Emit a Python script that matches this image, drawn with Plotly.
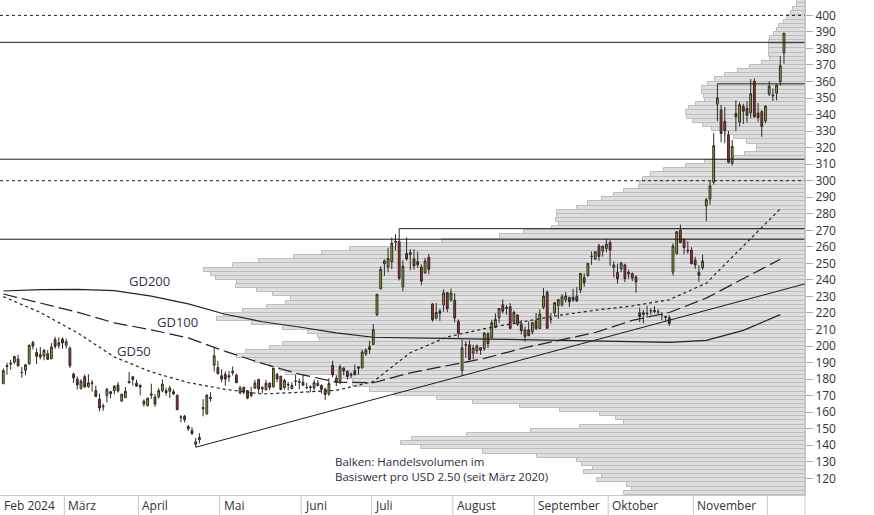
import plotly.graph_objects as go

# ---------------- data ----------------
dates = [
    "2024-02-06","2024-02-07","2024-02-08","2024-02-09","2024-02-12","2024-02-13","2024-02-14","2024-02-15","2024-02-16","2024-02-20",
    "2024-02-21","2024-02-22","2024-02-23","2024-02-26","2024-02-27","2024-02-28","2024-02-29","2024-03-01","2024-03-04","2024-03-05",
    "2024-03-06","2024-03-07","2024-03-08","2024-03-11","2024-03-12","2024-03-13","2024-03-14","2024-03-15","2024-03-18","2024-03-19",
    "2024-03-20","2024-03-21","2024-03-22","2024-03-25","2024-03-26","2024-03-27","2024-03-28","2024-04-01","2024-04-02","2024-04-03",
    "2024-04-04","2024-04-05","2024-04-08","2024-04-09","2024-04-10","2024-04-11","2024-04-12","2024-04-15","2024-04-16","2024-04-17",
    "2024-04-18","2024-04-19","2024-04-22","2024-04-23","2024-04-24","2024-04-25","2024-04-26","2024-04-29","2024-04-30","2024-05-01",
    "2024-05-02","2024-05-03","2024-05-06","2024-05-07","2024-05-08","2024-05-09","2024-05-10","2024-05-13","2024-05-14","2024-05-15",
    "2024-05-16","2024-05-17","2024-05-20","2024-05-21","2024-05-22","2024-05-23","2024-05-24","2024-05-28","2024-05-29","2024-05-30",
    "2024-05-31","2024-06-03","2024-06-04","2024-06-05","2024-06-06","2024-06-07","2024-06-10","2024-06-11","2024-06-12","2024-06-13",
    "2024-06-14","2024-06-17","2024-06-18","2024-06-20","2024-06-21","2024-06-24","2024-06-25","2024-06-26","2024-06-27","2024-06-28",
    "2024-07-01","2024-07-02","2024-07-03","2024-07-05","2024-07-08","2024-07-09","2024-07-10","2024-07-11","2024-07-12","2024-07-15",
    "2024-07-16","2024-07-17","2024-07-18","2024-07-19","2024-07-22","2024-07-23","2024-07-24","2024-07-25","2024-07-26","2024-07-29",
    "2024-07-30","2024-07-31","2024-08-01","2024-08-02","2024-08-05","2024-08-06","2024-08-07","2024-08-08","2024-08-09","2024-08-12",
    "2024-08-13","2024-08-14","2024-08-15","2024-08-16","2024-08-19","2024-08-20","2024-08-21","2024-08-22","2024-08-23","2024-08-26",
    "2024-08-27","2024-08-28","2024-08-29","2024-08-30","2024-09-03","2024-09-04","2024-09-05","2024-09-06","2024-09-09","2024-09-10",
    "2024-09-11","2024-09-12","2024-09-13","2024-09-16","2024-09-17","2024-09-18","2024-09-19","2024-09-20","2024-09-23","2024-09-24",
    "2024-09-25","2024-09-26","2024-09-27","2024-09-30","2024-10-01","2024-10-02","2024-10-03","2024-10-04","2024-10-07","2024-10-08",
    "2024-10-09","2024-10-10","2024-10-11","2024-10-14","2024-10-15","2024-10-16","2024-10-17","2024-10-18","2024-10-21","2024-10-22",
    "2024-10-23","2024-10-24","2024-10-25","2024-10-28","2024-10-29","2024-10-30","2024-10-31","2024-11-01","2024-11-04","2024-11-05",
    "2024-11-06","2024-11-07","2024-11-08","2024-11-11","2024-11-12","2024-11-13","2024-11-14","2024-11-15","2024-11-18","2024-11-19",
    "2024-11-20","2024-11-21","2024-11-22","2024-11-25","2024-11-26","2024-11-27","2024-11-29","2024-12-02","2024-12-03","2024-12-04",
    "2024-12-05","2024-12-06",
]
opens = [
    177.2,188.2,189.0,190.2,192.1,183.9,185.3,189.2,202.1,196.1,
    193.4,194.0,195.3,192.3,204.0,200.4,204.2,200.5,198.7,183.1,
    180.0,174.4,181.5,175.5,177.8,173.1,167.8,163.2,170.0,172.4,
    173.0,176.4,166.7,168.8,178.6,181.4,177.5,176.2,164.8,164.0,
    170.3,169.1,169.3,172.9,173.0,172.6,172.3,170.2,156.7,157.6,
    151.3,149.0,140.6,143.3,162.8,159.0,168.9,188.4,187.0,182.0,
    182.9,182.1,183.8,182.4,171.6,175.0,173.1,170.0,174.5,179.9,
    174.1,173.6,177.6,175.5,182.9,181.8,174.8,176.4,174.2,178.6,
    178.5,178.1,174.8,175.4,174.6,176.1,176.1,173.9,171.1,188.4,
    180.5,177.9,186.6,184.7,182.3,185.0,186.5,186.9,195.2,199.6,
    201.0,218.9,234.6,249.8,247.7,251.0,262.8,263.3,235.8,256.0,
    255.3,252.7,251.1,247.8,244.2,253.6,225.4,216.8,221.2,224.9,
    232.3,227.9,227.7,214.9,185.2,200.8,200.8,195.7,197.1,199.0,
    198.5,207.4,205.0,211.2,217.1,224.9,222.7,223.8,214.5,218.8,
    213.3,209.7,209.8,208.6,215.3,210.6,223.5,232.6,216.2,220.1,
    224.6,224.7,228.0,229.3,229.5,230.1,234.0,241.5,242.6,254.1,
    252.5,260.6,257.4,259.0,262.7,247.6,244.5,246.7,249.0,243.6,
    243.8,241.8,220.1,220.1,220.0,221.4,221.6,220.7,218.9,217.3,
    217.1,244.7,256.0,270.0,264.5,258.0,258.0,252.0,244.6,247.3,
    284.7,288.9,299.1,346.3,342.7,335.9,327.7,310.6,340.7,335.5,
    345.0,343.8,341.1,360.1,341.0,341.8,336.1,352.4,351.8,353.0,
    359.9,377.4,
]
highs = [
    186.5,189.8,191.6,194.1,194.7,187.3,188.9,200.9,203.2,198.6,
    199.4,198.3,197.6,201.8,205.6,205.3,205.3,204.5,199.8,184.0,
    181.6,180.0,182.7,182.9,179.4,176.1,171.2,165.2,174.7,172.8,
    176.3,178.2,171.2,175.2,184.3,181.9,179.6,176.8,167.7,168.8,
    177.2,170.9,174.5,179.8,174.9,175.9,173.8,170.7,158.2,158.3,
    152.2,150.9,144.4,147.3,167.9,170.9,172.1,198.9,191.0,185.9,
    184.6,184.8,187.6,183.3,176.1,175.6,173.1,175.4,179.5,179.9,
    175.8,179.6,177.8,186.9,183.8,181.9,180.1,178.3,178.2,182.7,
    180.3,182.6,177.8,176.2,179.7,179.4,176.9,174.8,180.6,191.1,
    182.3,188.8,187.2,185.2,184.0,188.8,187.6,197.8,198.7,203.2,
    213.2,231.3,248.4,252.4,259.4,265.6,267.6,271.0,251.8,265.6,
    258.6,258.5,257.1,249.4,253.2,255.8,226.0,226.0,222.3,234.3,
    232.4,234.7,231.9,216.1,203.9,202.9,203.5,200.7,200.9,199.3,
    208.5,208.4,215.9,219.8,223.0,228.2,224.7,226.0,221.5,219.1,
    215.7,211.8,214.9,214.6,219.9,222.2,235.0,233.6,219.9,226.4,
    228.5,231.5,232.7,230.0,234.6,235.7,244.2,244.0,250.0,257.2,
    257.1,261.8,260.7,264.9,264.0,251.2,249.8,251.0,249.8,246.2,
    244.5,242.8,223.3,221.9,224.3,222.8,224.0,222.3,220.5,218.2,
    218.7,262.1,269.5,273.5,265.0,263.4,259.8,254.0,248.9,255.3,
    289.6,299.8,328.7,358.6,345.8,344.6,330.0,324.7,348.6,347.4,
    346.6,348.0,361.5,361.9,347.0,342.6,345.5,360.0,355.7,358.1,
    375.4,389.5,
]
lows = [
    177.1,182.7,185.6,189.2,187.4,180.9,182.3,188.8,197.9,189.1,
    191.9,191.4,191.5,192.0,198.3,198.4,198.4,198.5,186.7,177.6,
    173.7,173.7,174.7,174.6,172.4,169.2,160.5,160.8,165.9,168.3,
    170.8,171.8,166.3,168.7,177.6,176.1,175.3,170.2,163.4,163.3,
    168.0,163.2,168.2,172.0,170.0,168.5,170.4,161.4,153.8,153.8,
    148.7,146.2,138.8,141.1,157.5,158.4,166.4,184.5,182.7,178.0,
    176.0,178.4,182.2,177.8,170.8,170.7,167.8,169.0,174.1,171.5,
    171.4,173.0,173.3,174.7,178.1,173.3,173.7,173.2,173.9,175.8,
    173.8,176.4,174.0,172.1,172.9,175.6,171.3,167.4,169.8,181.2,
    175.7,177.0,182.4,179.7,180.7,182.4,182.6,186.3,194.0,195.3,
    200.9,218.1,234.3,242.5,244.6,246.6,257.9,239.7,233.1,251.7,
    245.8,246.2,247.2,236.8,243.8,243.4,214.7,216.2,215.3,220.7,
    220.4,226.8,214.3,205.1,182.0,193.0,191.5,192.0,195.2,194.7,
    197.1,198.8,204.8,210.8,214.1,219.6,218.9,210.0,214.2,212.1,
    206.9,202.6,206.0,207.0,209.6,210.6,222.3,210.5,213.7,218.6,
    216.5,223.8,226.3,223.5,226.6,226.9,232.1,235.9,241.9,249.1,
    252.3,251.5,254.1,256.7,248.5,241.5,237.8,244.6,238.7,240.6,
    239.2,232.3,214.4,213.7,217.1,218.9,219.8,219.0,215.7,215.3,
    212.1,242.7,255.3,262.2,255.5,255.8,249.3,246.6,238.9,246.2,
    275.6,285.5,297.7,336.0,323.3,322.5,310.4,309.2,330.0,332.8,
    334.3,335.3,337.7,338.2,335.7,326.6,334.7,351.2,348.2,348.6,
    357.5,370.8,
]
closes = [
    185.1,187.6,189.6,193.6,188.1,184.0,188.7,200.5,200.0,193.8,
    194.8,197.4,192.0,199.4,199.7,202.0,201.9,202.6,188.1,180.7,
    176.5,178.7,175.3,177.8,177.5,169.5,162.5,163.6,173.8,171.3,
    175.7,172.8,170.8,172.6,177.7,179.8,175.8,175.2,166.6,168.4,
    171.1,164.9,173.0,176.9,171.8,174.6,171.1,161.5,157.1,155.5,
    149.9,147.1,142.1,144.7,162.1,170.2,168.3,194.1,183.3,180.0,
    180.0,181.2,184.8,177.8,174.7,172.0,168.5,171.9,177.6,174.0,
    174.8,177.5,175.0,186.6,180.1,173.7,179.2,176.8,176.2,178.8,
    178.1,176.3,174.8,175.0,177.9,177.5,173.8,170.7,177.3,182.5,
    178.0,187.4,184.9,181.6,183.0,182.6,187.4,196.4,197.4,197.9,
    209.9,231.3,246.4,251.5,252.9,262.3,263.3,241.0,248.2,252.6,
    256.6,248.5,249.2,239.2,251.5,246.4,216.0,220.3,219.8,232.1,
    222.6,232.1,216.9,207.7,198.9,200.6,191.8,198.8,200.0,197.5,
    207.8,201.4,214.1,216.1,222.7,221.1,223.3,210.7,220.3,213.2,
    209.2,205.8,206.3,214.1,210.6,219.4,230.2,210.7,216.3,226.2,
    228.1,229.8,230.3,226.8,227.9,227.2,243.9,238.3,250.0,254.3,
    257.0,254.2,260.5,261.6,258.0,249.0,240.7,250.1,240.8,244.5,
    241.1,238.8,217.8,219.2,219.6,221.3,220.9,220.7,218.9,218.0,
    213.7,260.5,269.2,262.5,259.5,257.6,249.9,249.0,242.8,251.4,
    288.5,296.9,321.2,350.0,328.5,330.2,311.2,320.7,338.7,346.0,
    342.0,339.6,352.6,338.6,338.2,332.9,345.2,357.1,351.4,357.9,
    369.5,389.2,
]

ma_dates = dates[::10] + [dates[-1]]
gd50 = [229.9, 220.3, 208.1, 193.4, 184.3, 177.9, 173.8, 171.0, 172.0, 173.2, 178.5,
        196.0, 205.5, 210.5, 214.5, 218.5, 221.7, 224.2, 228.0, 238.0, 260.5, 283.0]
gd100 = [231.5, 226.2, 220.5, 214.0, 209.8, 204.9, 196.8, 189.5, 183.0, 178.2, 177.8,
         183.8, 188.0, 192.5, 198.5, 203.3, 208.2, 215.5, 220.3, 229.0, 240.5, 252.5]
gd200 = [233.3, 234.1, 234.3, 233.5, 230.2, 225.5, 219.2, 214.7, 211.5, 208.0, 205.3,
         204.8, 204.6, 204.2, 203.9, 203.6, 203.2, 202.7, 202.2, 203.4, 209.5, 219.0]

# volume profile per USD 2.50 bucket (lower bound of bucket), arbitrary units
prof_low = [110 + 2.5 * k for k in range(120)]
prof_vol = [181, 173, 178, 208, 203, 221, 212, 223, 228, 268,
            322, 384, 404, 393, 338, 274, 225, 181, 189, 205,
            245, 285, 332, 368, 410, 435, 452, 452, 468, 519,
            525, 535, 550, 568, 559, 535, 522, 485, 487, 497,
            522, 553, 588, 581, 562, 538, 519, 514, 532, 548,
            569, 568, 589, 594, 601, 572, 546, 511, 483, 455,
            408, 363, 305, 281, 253, 246, 249, 248, 248, 228,
            217, 203, 191, 181, 166, 165, 162, 154, 141, 119,
            100, 71, 60, 48, 48, 58, 71, 80, 93, 102,
            112, 118, 119, 116, 109, 100, 101, 103, 103, 97,
            90, 80, 67, 55, 43, 35, 36, 36, 36, 36,
            35, 31, 28, 26, 21, 18, 14, 12, 8, 8]

levels_solid = [383.7, 313.0, 264.6]
levels_dotted = [400.0, 300.0]
resist_dates = ["2024-07-11", "2024-11-11"]
trend_dates = ["2024-04-22", "2024-08-05"]
month_names = ["Feb 2024", "März", "April", "Mai", "Juni", "Juli", "August",
               "September", "Oktober", "November", ""]
yticks = list(range(120, 401, 10))

# ---------------- figure ----------------
idx = list(range(len(dates)))
X0, X1 = -0.892, 216.68
Y0, Y1 = 109.9, 409.3
PROF_MAX = 805

fig = go.Figure()

# volume profile on the base x axis (drawn underneath)
fig.add_trace(go.Bar(
    y=[p + 1.25 for p in prof_low], x=prof_vol, orientation="h", width=2.5,
    xaxis="x", yaxis="y",
    marker=dict(color="#dedede", line=dict(color="#bdbdbd", width=1)),
    hoverinfo="skip", showlegend=False))

line_col = "#1c1c1c"
for lv in levels_solid:
    fig.add_trace(go.Scatter(x=[X0, X1], y=[lv, lv], mode="lines", xaxis="x2",
                             line=dict(color=line_col, width=1), hoverinfo="skip", showlegend=False))
for lv in levels_dotted:
    fig.add_trace(go.Scatter(x=[X0, X1], y=[lv, lv], mode="lines", xaxis="x2",
                             line=dict(color=line_col, width=1, dash="3px,3px"), hoverinfo="skip", showlegend=False))
for d in resist_dates:
    i = dates.index(d)
    fig.add_trace(go.Scatter(x=[i, X1], y=[highs[i], highs[i]], mode="lines", xaxis="x2",
                             line=dict(color=line_col, width=1), hoverinfo="skip", showlegend=False))

# trendline through two lows, extended to the right edge
i1, i2 = dates.index(trend_dates[0]), dates.index(trend_dates[1])
slope = (lows[i2] - lows[i1]) / (i2 - i1)
fig.add_trace(go.Scatter(x=[i1, X1], y=[lows[i1], lows[i1] + slope * (X1 - i1)], mode="lines", xaxis="x2",
                         line=dict(color=line_col, width=1), hoverinfo="skip", showlegend=False))

ma_x = [dates.index(d) for d in ma_dates]
fig.add_trace(go.Scatter(x=ma_x, y=gd200, mode="lines", xaxis="x2", line=dict(color="#222", width=1.2),
                         hoverinfo="skip", showlegend=False))
fig.add_trace(go.Scatter(x=ma_x, y=gd100, mode="lines", xaxis="x2",
                         line=dict(color="#222", width=1.2, dash="14px,5px"),
                         hoverinfo="skip", showlegend=False))
fig.add_trace(go.Scatter(x=ma_x, y=gd50, mode="lines", xaxis="x2",
                         line=dict(color="#222", width=1.2, dash="3px,3px"),
                         hoverinfo="skip", showlegend=False))

fig.add_trace(go.Candlestick(
    x=idx, open=opens, high=highs, low=lows, close=closes, xaxis="x2", yaxis="y",
    increasing=dict(fillcolor="#9fb21c", line=dict(color="#2a2a2a", width=1)),
    decreasing=dict(fillcolor="#c0281c", line=dict(color="#2a2a2a", width=1)),
    whiskerwidth=0, hoverinfo="skip", showlegend=False))

# month separators and labels
month_first = [0] + [i for i in range(1, len(dates)) if dates[i][5:7] != dates[i - 1][5:7]]
shapes = []
annotations = []
for k, i in enumerate(month_first):
    xs = X0 if k == 0 else i - 0.5
    if k > 0:
        shapes.append(dict(type="line", xref="x2", yref="paper", x0=xs, x1=xs, y0=0, y1=-0.045,
                           line=dict(color="#c8c8c8", width=1)))
    if month_names[k]:
        annotations.append(dict(xref="x2", yref="paper", x=xs, y=-0.022, text=month_names[k],
                                showarrow=False, xanchor="left", yanchor="middle", xshift=2,
                                font=dict(family="Open Sans", size=12, color="#333")))
shapes.append(dict(type="line", xref="paper", yref="paper", x0=1, x1=1, y0=1, y1=-0.045,
                   line=dict(color="#c8c8c8", width=1)))

label_font = dict(family="Open Sans", size=13, color="#30334a")
annotations += [
    dict(xref="x2", yref="y", x=39.6, y=239.4, text="GD200", showarrow=False, font=label_font),
    dict(xref="x2", yref="y", x=47.2, y=214.6, text="GD100", showarrow=False, font=label_font),
    dict(xref="x2", yref="y", x=35.3, y=197.0, text="GD50", showarrow=False, font=label_font),
    dict(xref="paper", yref="paper", x=333 / 805, y=1 - 469 / 495,
         text="Balken: Handelsvolumen im<br>Basiswert pro USD 2.50 (seit März 2020)",
         showarrow=False, xanchor="left", yanchor="middle", align="left",
         font=dict(family="Open Sans", size=11.5, color="#2a2a40")),
]

fig.update_layout(
    width=874, height=515,
    margin=dict(l=0, r=69, t=0, b=20),
    paper_bgcolor="white", plot_bgcolor="white",
    showlegend=False,
    xaxis=dict(range=[PROF_MAX, 0], showgrid=False, zeroline=False, showticklabels=False, ticks="",
               showline=True, linecolor="#c8c8c8", linewidth=1, fixedrange=True),
    xaxis2=dict(overlaying="x", anchor="y", range=[X0, X1], visible=False, fixedrange=True,
                rangeslider=dict(visible=False)),
    yaxis=dict(range=[Y0, Y1], side="right", tickvals=yticks, ticktext=[str(v) for v in yticks],
               showgrid=False, zeroline=False, ticks="outside", ticklen=7, tickcolor="#aaaaaa",
               showline=True, linecolor="#c8c8c8", linewidth=1, fixedrange=True,
               tickfont=dict(family="Open Sans", size=12, color="#333")),
    shapes=shapes, annotations=annotations,
    bargap=0,
)

fig.write_html("out.html", config={"displayModeBar": False},
               post_script="document.body.style.margin='0';document.body.style.overflow='hidden';")
